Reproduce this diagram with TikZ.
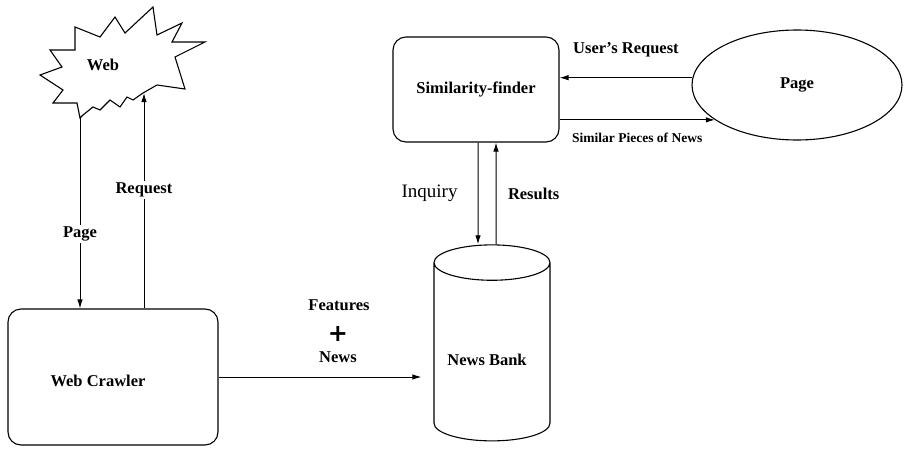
\documentclass[tikz,border=0pt]{standalone}
\usepackage{fontspec}
\setmainfont{Liberation Serif}
\newfontfamily\plusfont{DejaVu Sans}
\usetikzlibrary{arrows.meta, positioning, shapes.geometric}

\begin{document}
\begin{tikzpicture}[x=1pt,y=-1pt,line width=1.1pt,
        flow/.style={-{Latex[length=9pt,width=5.5pt]},line width=1pt},
        box/.style={draw,rounded corners=13pt},
        lbl/.style={font=\bfseries\fontsize{16.5}{19}\selectfont,fill=white,inner sep=1.5pt},
        small/.style={font=\bfseries\fontsize{13.5}{15}\selectfont,inner sep=1pt}]
        \useasboundingbox (0,0) rectangle (905,455);
        % the web
        \draw (153,7) -- (157,35) -- (182,23) -- (172,42) -- (205,42) -- (175,57)
          -- (185,89) -- (157,85) -- (143,93) -- (133,100) -- (127,97) -- (120,107)
          -- (110,100) -- (100,110) -- (93,107) -- (83,115) -- (80,118) -- (77,103)
          -- (53,103) -- (63,90) -- (40,75) -- (62,67) -- (50,50) -- (75,50)
          -- (75,27) -- (100,37) -- (115,17) -- (125,33) -- cycle;
        \node[lbl,fill=none] (web) at (103,65) {Web};
        \coordinate (webpage) at (80,118);
        \coordinate (webreq) at (144,93);
        % boxes
        \node[box,minimum width=210pt,minimum height=136pt] (crawler) at (113,377) {};
        \node[lbl] (crawlertxt) at (98,381) {Web Crawler};
        \node[box,minimum width=166pt,minimum height=105pt,lbl,fill=none] (finder) at (476,89.5) {Similarity-finder};
        \node[draw,ellipse,minimum width=210pt,minimum height=110pt,lbl,fill=none] (page) at (797,85) {Page};
        \node[draw,cylinder,shape border rotate=90,aspect=0.43,minimum width=116pt,minimum height=196pt,
          lbl,fill=none] (bank) at (492,354) {\phantom{News Bank}};
        \node[lbl,fill=none] (banktxt) at (487,360) {News Bank};
        % connectors
        \draw[flow] (webpage) -- (webpage |- crawler.north) node[lbl,pos=0.61] {Page};
        \draw[flow] (webreq |- crawler.north) -- (webreq) node[lbl,pos=0.55] {Request};
        \draw[flow,shorten >=12pt] (crawler.east) -- (crawler.east -| bank.west);
        \node[lbl,fill=none] (feat) at (339,305) {Features};
        \node[font=\plusfont\bfseries\fontsize{24}{24}\selectfont,inner sep=0pt] (plus) at (338,334) {+};
        \node[lbl,fill=none] (news) at (338,357) {News};
        \draw[flow] ([xshift=2pt]finder.south) -- ([xshift=-14pt]bank.north)
          node[midway,left=20pt,font=\fontsize{19}{21}\selectfont,inner sep=0pt] {Inquiry};
        \draw[flow] ([xshift=4pt]bank.north) -- ([xshift=20pt]finder.south)
          node[midway,right=10pt,lbl,fill=none] {Results};
        \draw[flow] (page.176) -- (page.176 -| finder.east)
          node[midway,above=19pt,lbl,fill=none] {User\symbol{39}s Request};
        \draw[flow] (finder.east |- page.203) -- (page.203)
          node[pos=0.5,below=12pt,small] {Similar Pieces of News};
\end{tikzpicture}
\end{document}
